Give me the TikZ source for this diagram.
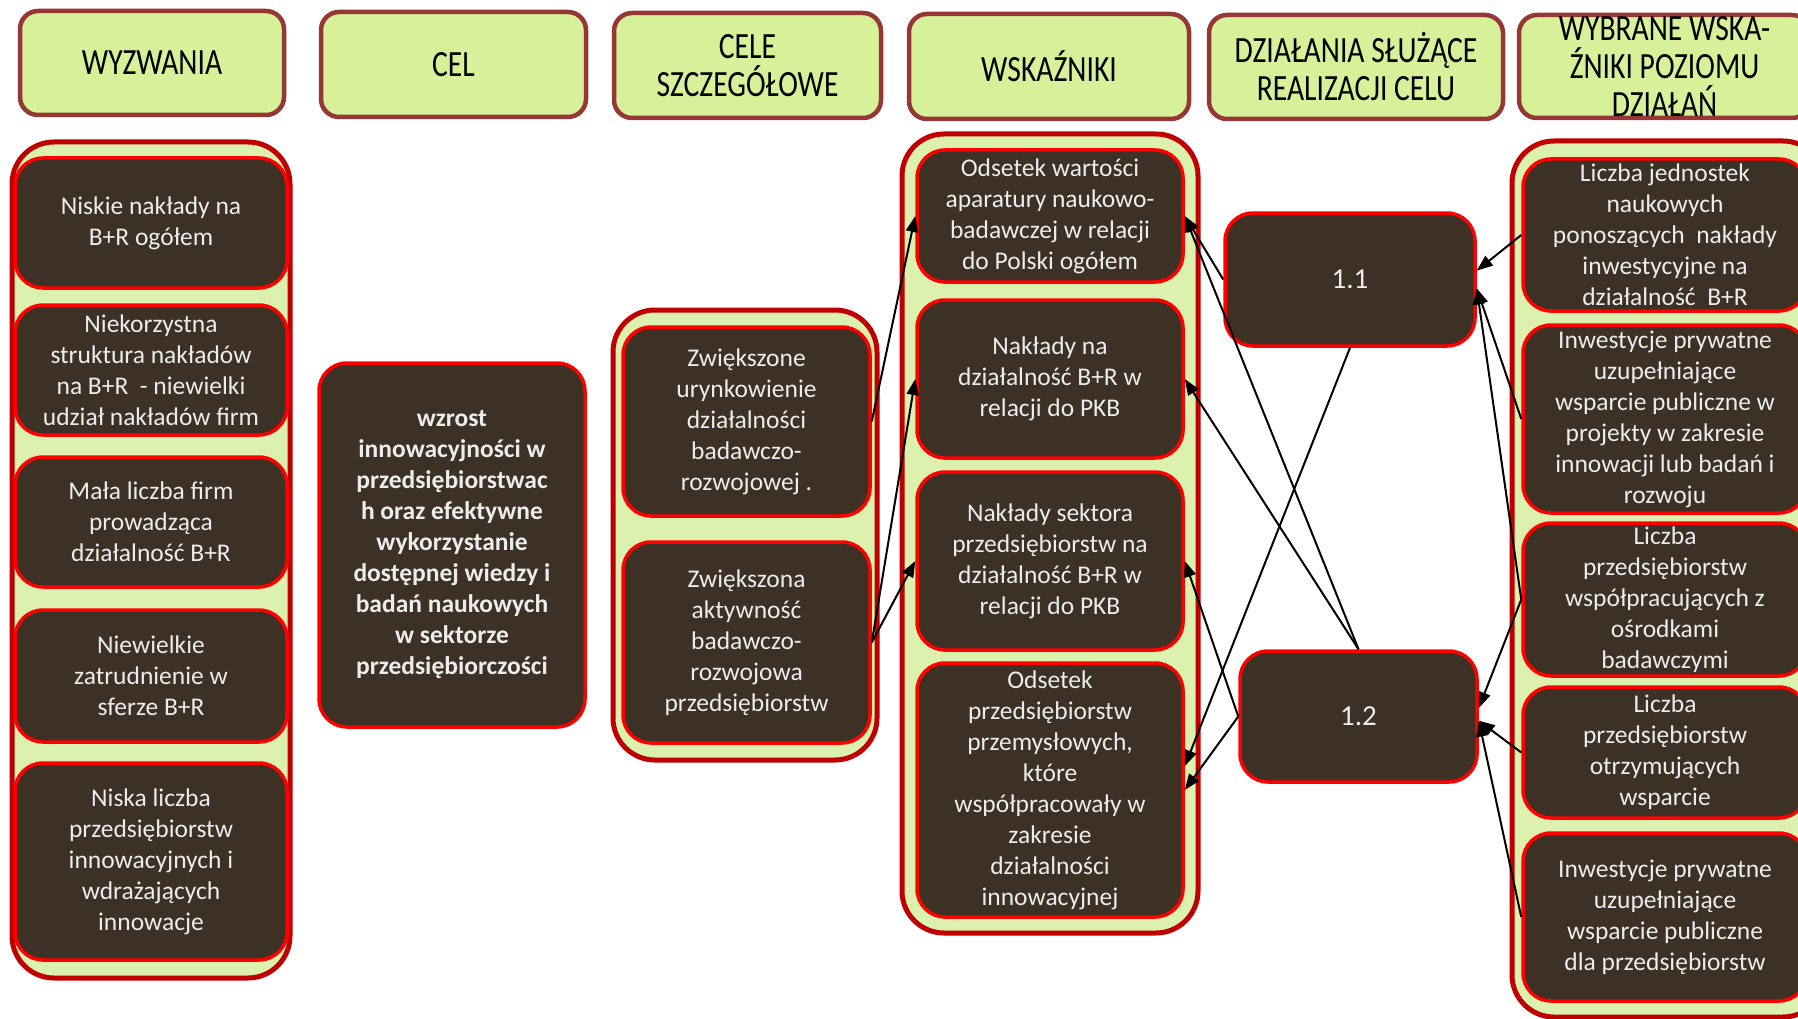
\documentclass[tikz,border=0pt]{standalone}
\usepackage{fontspec}
\setmainfont{Carlito}
\newfontfamily\headfont[FakeStretch=0.8]{Carlito}
\usepackage{tikz}
\usetikzlibrary{arrows.meta}

\definecolor{hdrfill}{HTML}{D6F19A}
\definecolor{hdrline}{HTML}{953735}
\definecolor{grpfill}{HTML}{DCF1AD}
\definecolor{grpline}{HTML}{C00000}
\definecolor{cellfill}{HTML}{3D3125}
\definecolor{cellline}{HTML}{FF0000}
\definecolor{celltext}{HTML}{EDEDED}

\begin{document}
\begin{tikzpicture}[x=1pt, y=-1pt,
    hdr/.style={draw=hdrline, line width=4.5pt, fill=hdrfill, rounded corners=18pt, inner sep=0pt, align=center, font=\headfont\fontsize{37}{38}\selectfont},
    grp/.style={draw=grpline, line width=5pt, fill=grpfill, rounded corners=42pt, inner sep=0pt},
    cell/.style={draw=cellline, line width=3.5pt, fill=cellfill, rounded corners=28pt, inner sep=0pt, align=center, text=celltext, font=\fontsize{25.5}{31}\selectfont},
    link/.style={-{Triangle[length=16pt,width=12pt]}, line width=2pt}]
    \useasboundingbox (0,0) rectangle (1798,1019);

    \node[hdr, minimum width=264pt, minimum height=104pt] (h1) at (152,63) {WYZWANIA};
    \node[hdr, minimum width=265pt, minimum height=105pt] (h2) at (453.5,64.5) {CEL};
    \node[hdr, minimum width=267pt, minimum height=105pt] (h3) at (747.5,65.5) {CELE\\SZCZEGÓŁOWE};
    \node[hdr, minimum width=280pt, minimum height=105pt] (h4) at (1049,66.5) {WSKAŹNIKI};
    \node[hdr, minimum width=294pt, minimum height=104pt] (h5) at (1356,67) {DZIAŁANIA SŁUŻĄCE\\REALIZACJI CELU};
    \node[hdr, minimum width=291pt, minimum height=103pt] (h6) at (1664.5,66.5) {WYBRANE WSKA-\\ŹNIKI POZIOMU\\DZIAŁAŃ};

    \node[grp, minimum width=278pt, minimum height=836pt] (g1) at (151,560) {};
    \node[grp, minimum width=264pt, minimum height=450pt] (g3) at (745,535) {};
    \node[grp, minimum width=296pt, minimum height=799pt] (g4) at (1050,533.5) {};
    \node[grp, minimum width=313pt, minimum height=876pt] (g6) at (1668.5,579) {};

    \node[cell, minimum width=272pt, minimum height=130pt] (c1) at (151,223) {Niskie nakłady na\\B+R ogółem};
    \node[cell, minimum width=272pt, minimum height=130pt] (c2) at (151,370) {Niekorzystna\\struktura nakładów\\na B+R~ - niewielki\\udział nakładów firm};
    \node[cell, minimum width=272pt, minimum height=130pt] (c3) at (151,522) {Mała liczba firm\\prowadząca\\działalność B+R};
    \node[cell, minimum width=272pt, minimum height=132pt] (c4) at (151,676) {Niewielkie\\zatrudnienie w\\sferze B+R};
    \node[cell, minimum width=272pt, minimum height=197pt] (c5) at (151,861.5) {Niska liczba\\przedsiębiorstw\\innowacyjnych i\\wdrażających\\innowacje};

    \node[cell, minimum width=266pt, minimum height=364pt, font=\fontsize{25.5}{31}\selectfont\bfseries] (cel) at (452,545) {wzrost\\innowacyjności w\\przedsiębiorstwac\\h oraz efektywne\\wykorzystanie\\dostępnej wiedzy i\\badań naukowych\\w sektorze\\przedsiębiorczości};

    \node[cell, minimum width=247pt, minimum height=189pt] (s1) at (746.5,421.5) {Zwiększone\\urynkowienie\\działalności\\badawczo-\\rozwojowej .};
    \node[cell, minimum width=247pt, minimum height=201pt] (s2) at (746.5,642.5) {Zwiększona\\aktywność\\badawczo-\\rozwojowa\\przedsiębiorstw};

    \node[cell, minimum width=266pt, minimum height=132pt] (w1) at (1050,216) {Odsetek wartości\\aparatury naukowo-\\badawczej w relacji\\do Polski ogółem};
    \node[cell, minimum width=266pt, minimum height=158pt] (w2) at (1050,379) {Nakłady na\\działalność B+R w\\relacji do PKB};
    \node[cell, minimum width=266pt, minimum height=178pt] (w3) at (1050,561) {Nakłady sektora\\przedsiębiorstw na\\działalność B+R w\\relacji do PKB};
    \node[cell, minimum width=266pt, minimum height=254pt] (w4) at (1050,790) {Odsetek\\przedsiębiorstw\\przemysłowych,\\które\\współpracowały w\\zakresie\\działalności\\innowacyjnej};

    \node[cell, minimum width=250pt, minimum height=133pt, font=\fontsize{29}{34}\selectfont] (a1) at (1350,279.5) {1.1};
    \node[cell, minimum width=237pt, minimum height=131pt, font=\fontsize{29}{34}\selectfont] (a2) at (1358.5,716.5) {1.2};

    \node[cell, minimum width=284pt, minimum height=152pt] (r1) at (1665,235) {Liczba jednostek\\naukowych\\ponoszących~ nakłady\\inwestycyjne na\\działalność~ B+R};
    \node[cell, minimum width=284pt, minimum height=188pt] (r2) at (1665,419) {Inwestycje prywatne\\uzupełniające\\wsparcie publiczne w\\projekty w zakresie\\innowacji lub badań i\\rozwoju};
    \node[cell, minimum width=284pt, minimum height=153pt] (r3) at (1665,599.5) {Liczba\\przedsiębiorstw\\współpracujących z\\ośrodkami\\badawczymi};
    \node[cell, minimum width=284pt, minimum height=131pt] (r4) at (1665,752.5) {Liczba\\przedsiębiorstw\\otrzymujących\\wsparcie};
    \node[cell, minimum width=284pt, minimum height=168pt] (r5) at (1665,917) {Inwestycje prywatne\\uzupełniające\\wsparcie publiczne\\dla przedsiębiorstw};

    \draw[link] (s1.east) -- (w1.west);
    \draw[link] (s2.east) -- (w2.west);
    \draw[link] (s2.east) -- (w3.west);

    \draw[link] (a1.west) -- (w1.east);
    \draw[link] (a1.south) -- (w4.10);
    \draw[link] (a2.north) -- (w1.east);
    \draw[link] (a2.north) -- (w2.east);
    \draw[link] (a2.west) -- (w3.east);
    \draw[link] (a2.west) -- (w4.east);

    \draw[link] (r1.west) -- (a1.4);
    \draw[link] (r2.west) -- (a1.-4);
    \draw[link] (r3.west) -- (a1.-4);
    \draw[link] (r3.west) -- (a2.4);
    \draw[link] (r4.west) -- (a2.-2);
    \draw[link] (r5.west) -- (a2.-2);
\end{tikzpicture}
\end{document}
